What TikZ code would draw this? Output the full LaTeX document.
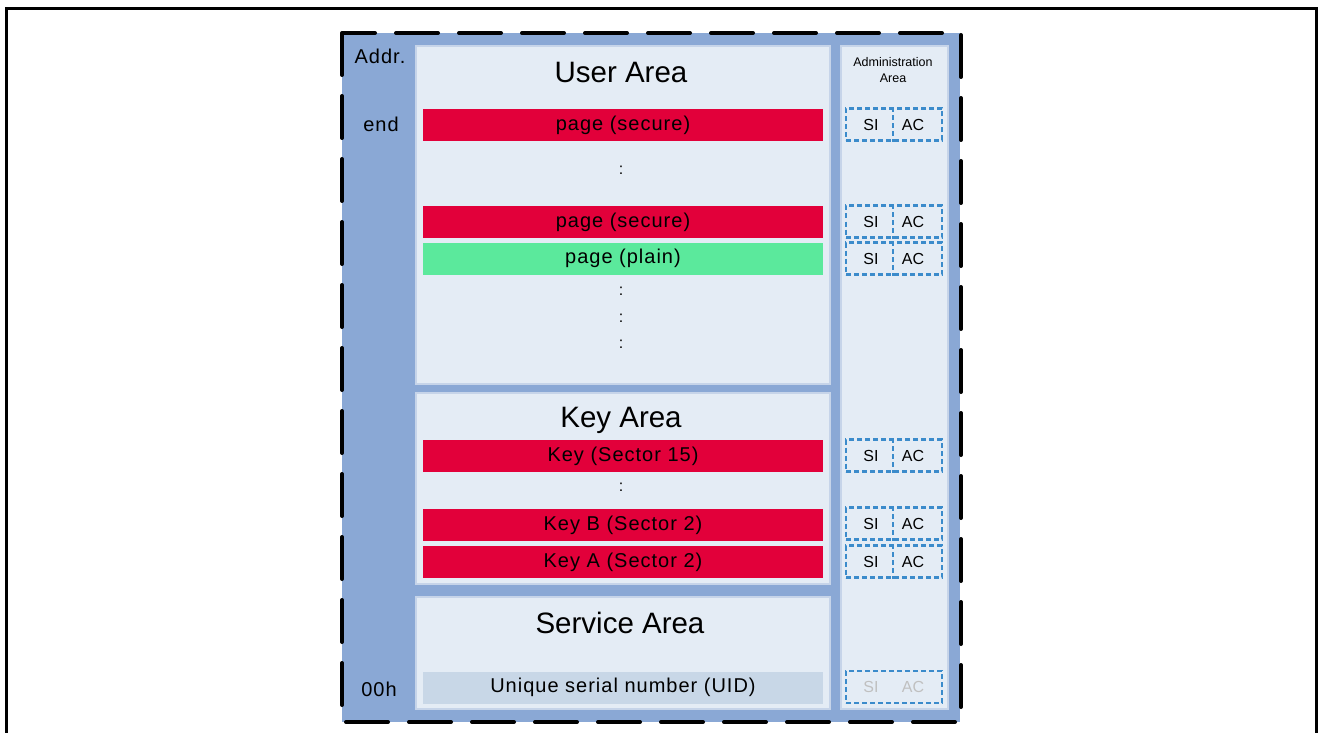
\documentclass[tikz,border=0pt]{standalone}
\usepackage{fontspec}
\setmainfont{Liberation Sans}
\newfontfamily\barfont[LetterSpace=5]{Liberation Sans}
\definecolor{memblue}{HTML}{8AA8D5}
\definecolor{panelfill}{HTML}{E4ECF5}
\definecolor{panelline}{HTML}{C6D4E9}
\definecolor{securered}{HTML}{E2003A}
\definecolor{plaingreen}{HTML}{5BE99C}
\definecolor{uidgray}{HTML}{C8D7E7}
\definecolor{slotblue}{HTML}{3B8BCB}
\definecolor{fadedtext}{HTML}{C0C0C0}
\begin{document}
\begin{tikzpicture}[x=1pt,y=-1pt,
  panel/.style={draw=panelline, fill=panelfill, line width=1.2pt, inner sep=0pt},
  bar/.style={minimum width=400pt, minimum height=32pt, inner sep=0pt, font=\barfont\fontsize{20}{24}\selectfont},
  secure/.style={bar, fill=securered},
  plain/.style={bar, fill=plaingreen},
  title/.style={font=\fontsize{29.5}{34}\selectfont},
  addr/.style={font=\barfont\fontsize{20}{24}\selectfont},
  slotline/.style={draw=slotblue, dash pattern=on 5pt off 3pt, line width=2.5pt},
  slot/.style={slotline, minimum width=96pt, minimum height=32pt, inner sep=0pt},
  slottxt/.style={font=\fontsize{16}{19}\selectfont},
  dots/.style={font=\fontsize{16}{19}\selectfont}]
\useasboundingbox (0,0) rectangle (1318,733);
% outer frame
\draw[line width=3pt] (6,740) -- (6,9) -- (1316,9) -- (1316,740);
% memory block
\fill[memblue] (342,33) rectangle (960,722);
\draw[line width=4pt, dash pattern=on 42pt off 21pt, line cap=round] (342,33) rectangle (961,722);
% areas
\node[panel, minimum width=414pt, minimum height=338pt] (user) at (623,215) {};
\node[panel, minimum width=414pt, minimum height=191pt] (key) at (623,488.5) {};
\node[panel, minimum width=414pt, minimum height=112pt] (service) at (623,653) {};
\node[panel, minimum width=107pt, minimum height=663pt] (admin) at (894.5,377.5) {};
\node[title] (usertitle) at (621,72) {User Area};
\node[title] (keytitle) at (621,420) {Key Area};
\node[title] (servicetitle) at (620,623) {Service Area};
\node[font=\fontsize{12.5}{15.5}\selectfont, align=center] (admintitle) at (893,70) {Administration\\Area};
% addresses
\node[addr] (addr) at (380,56) {Addr.};
\node[addr] (end) at (381,124) {end};
\node[addr] (start) at (379,689) {00h};
% user area pages
\node[secure] (page1) at (623,125) {page (secure)};
\node[dots] (dots1) at (621,170) {:};
\node[secure] (page2) at (623,222) {page (secure)};
\node[plain] (page3) at (623,258.5) {page (plain)};
\node[dots] (dots2) at (621,291) {:};
\node[dots] (dots3) at (621,318) {:};
\node[dots] (dots4) at (621,344) {:};
% key area
\node[secure] (key15) at (623,456) {Key (Sector 15)};
\node[dots] (dots5) at (621,487) {:};
\node[secure] (keyb) at (623,525) {Key B (Sector 2)};
\node[secure] (keya) at (623,562) {Key A (Sector 2)};
% service area
\node[bar, fill=uidgray] (uid) at (623,687.5) {Unique serial number (UID)};
% administration slots
\node[slot] (s1) at (894,124.5) {};
\node[slot] (s2) at (894,221.5) {};
\node[slot] (s3) at (894,258.5) {};
\node[slot] (s4) at (894,455.5) {};
\node[slot] (s5) at (894,523.5) {};
\node[slot] (s6) at (894,561.5) {};
\node[slot] (s7) at (894,687) {};
\foreach \s in {s1,s2,s3,s4,s5,s6}{
  \draw[slotline] ([xshift=-1pt]\s.north) -- ([xshift=-1pt]\s.south);
  \node[slottxt] at ([xshift=-23pt]\s.center) {SI};
  \node[slottxt] at ([xshift=19pt]\s.center) {AC};
}
\node[slottxt, text=fadedtext] (si7) at (871,687) {SI};
\node[slottxt, text=fadedtext] (ac7) at (913,687) {AC};
\end{tikzpicture}
\end{document}
